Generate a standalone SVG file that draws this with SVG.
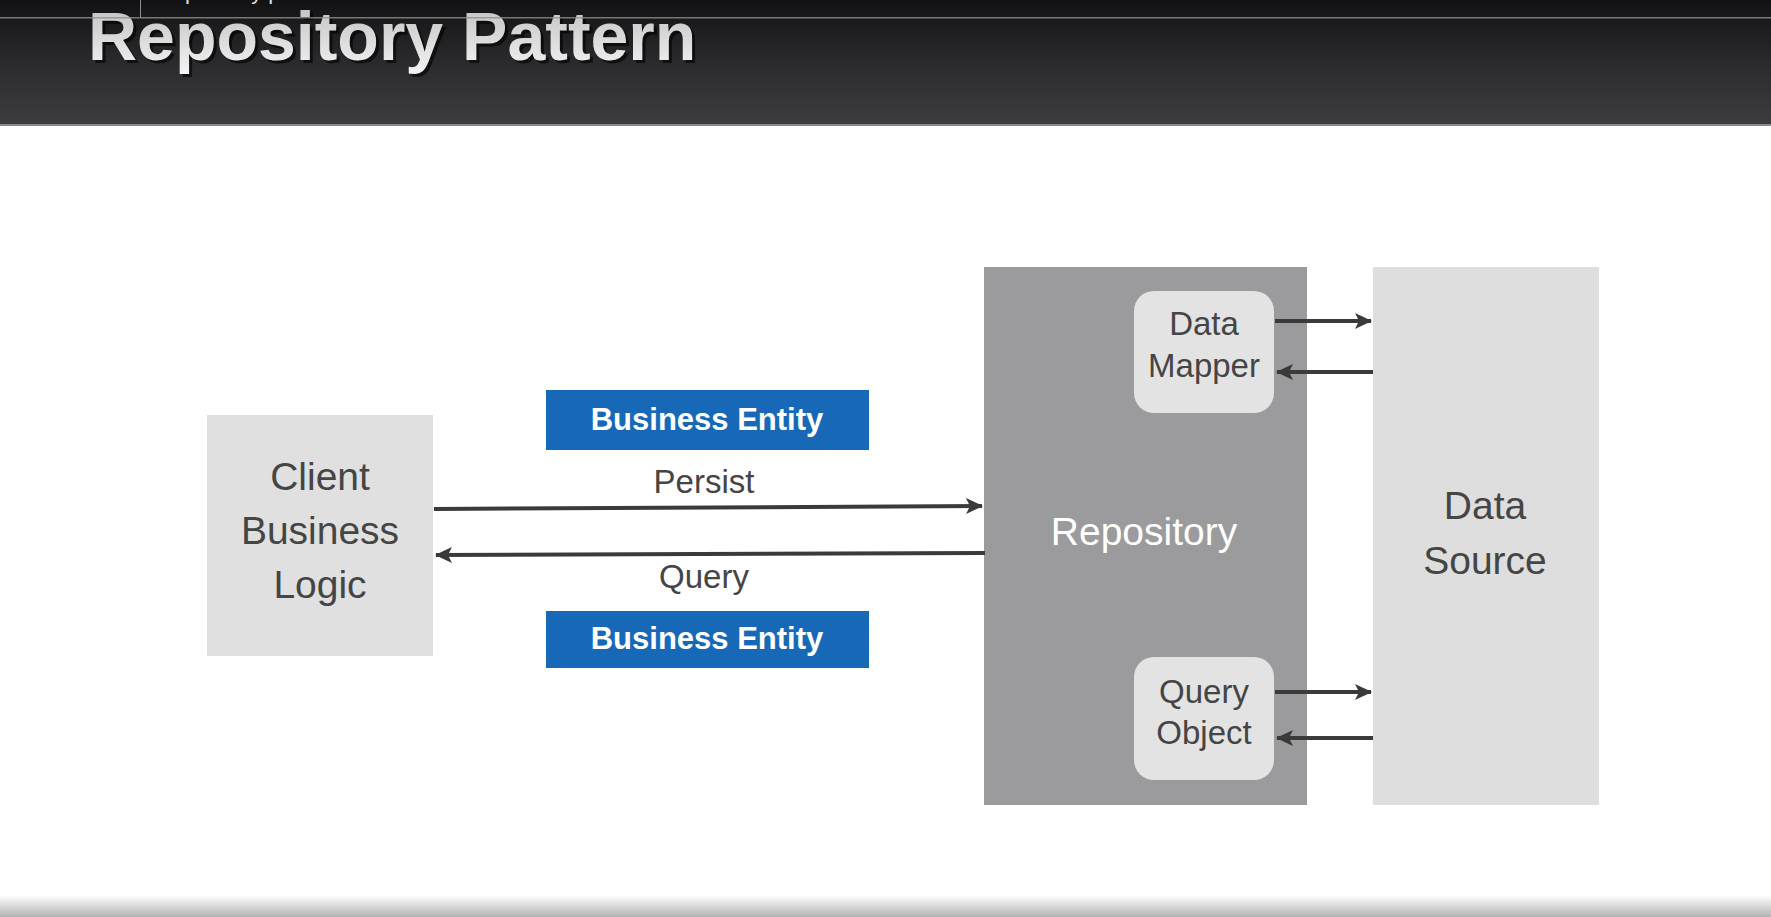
<svg xmlns="http://www.w3.org/2000/svg" width="1771" height="917" viewBox="0 0 1771 917">
  <defs>
    <linearGradient id="bar" x1="0" y1="0" x2="0" y2="1">
      <stop offset="0" stop-color="#121214"/>
      <stop offset="0.5" stop-color="#2a2a2e"/>
      <stop offset="1" stop-color="#3c3c41"/>
    </linearGradient>
    <linearGradient id="titleFill" x1="0" y1="0" x2="0" y2="1">
      <stop offset="0" stop-color="#bdbdbd"/>
      <stop offset="1" stop-color="#f4f4f4"/>
    </linearGradient>
    <linearGradient id="foot" x1="0" y1="0" x2="0" y2="1">
      <stop offset="0" stop-color="#ffffff"/>
      <stop offset="1" stop-color="#b4b4b4"/>
    </linearGradient>
    <marker id="ah" markerUnits="userSpaceOnUse" markerWidth="20" markerHeight="18" refX="16" refY="9" orient="auto">
      <path d="M0,1 L17,9 L0,17 L4,9 Z" fill="#3a3a3a"/>
    </marker>
  </defs>
  <style>
    .lbl { font-family: "Liberation Sans", Arial, sans-serif; fill: #454545; text-anchor: middle; }
    .big { font-size: 39px; }
    .mid { font-size: 33px; }
    .be { font-family: "Liberation Sans", Arial, sans-serif; font-weight: bold; font-size: 31px; fill: #ffffff; text-anchor: middle; }
    .conn { stroke: #3a3a3a; stroke-width: 4; fill: none; marker-end: url(#ah); }
    .light { fill: #e0e0e0; }
    .inner { fill: #e3e3e3; }
    .blue { fill: #1769b8; }
  </style>

  <rect width="1771" height="917" fill="#ffffff"/>

  <!-- header bar -->
  <g id="header">
    <rect x="0" y="0" width="1771" height="124" fill="url(#bar)"/>
    <rect x="0" y="124" width="1771" height="2" fill="#8a8a8c"/>
    <text x="157" y="-1" font-family="Liberation Sans, Arial, sans-serif" font-size="22" fill="#e0e0e0">Repository pattern</text>
    <text x="91" y="63" font-family="Liberation Sans, Arial, sans-serif" font-weight="bold" font-size="68" fill="#000" opacity="0.6">Repository Pattern</text>
    <text x="88" y="60" font-family="Liberation Sans, Arial, sans-serif" font-weight="bold" font-size="68" fill="url(#titleFill)">Repository Pattern</text>
    <rect x="0" y="17" width="1771" height="1.5" fill="#8e8e90" opacity="0.8"/>
    <rect x="140" y="0" width="1" height="17" fill="#8e8e90"/>
  </g>

  <rect x="0" y="895" width="1771" height="22" fill="url(#foot)"/>

  <g id="client">
    <rect x="207" y="415" width="226" height="241" class="light"/>
    <text class="lbl big" x="320" y="490">Client</text>
    <text class="lbl big" x="320" y="544">Business</text>
    <text class="lbl big" x="320" y="598">Logic</text>
  </g>

  <g id="entity-persist">
    <rect x="546" y="390" width="323" height="60" class="blue"/>
    <text class="be" x="707" y="430">Business Entity</text>
  </g>

  <g id="entity-query">
    <rect x="546" y="611" width="323" height="57" class="blue"/>
    <text class="be" x="707" y="649">Business Entity</text>
  </g>

  <g id="repository">
    <rect x="984" y="267" width="323" height="538" fill="#9b9b9d"/>
    <text class="lbl big" x="1144" y="545" style="fill:#ffffff">Repository</text>
  </g>

  <g id="data-mapper">
    <rect x="1134" y="291" width="140" height="122" rx="20" class="inner"/>
    <text class="lbl mid" x="1204" y="335">Data</text>
    <text class="lbl mid" x="1204" y="377">Mapper</text>
  </g>

  <g id="query-object">
    <rect x="1134" y="657" width="140" height="123" rx="20" class="inner"/>
    <text class="lbl mid" x="1204" y="703">Query</text>
    <text class="lbl mid" x="1204" y="744">Object</text>
  </g>

  <g id="data-source">
    <rect x="1373" y="267" width="226" height="538" fill="#dedede"/>
    <text class="lbl big" x="1485" y="519">Data</text>
    <text class="lbl big" x="1485" y="574">Source</text>
  </g>

  <g id="connectors">
    <path class="conn" d="M434,509 L982,506"/>
    <path class="conn" d="M985,553 L436,555"/>
    <path class="conn" d="M1275,321 L1371,321"/>
    <path class="conn" d="M1373,372 L1277,372"/>
    <path class="conn" d="M1275,692 L1371,692"/>
    <path class="conn" d="M1373,738 L1277,738"/>
    <text class="lbl mid" x="704" y="493">Persist</text>
    <text class="lbl mid" x="704" y="588">Query</text>
  </g>
</svg>
